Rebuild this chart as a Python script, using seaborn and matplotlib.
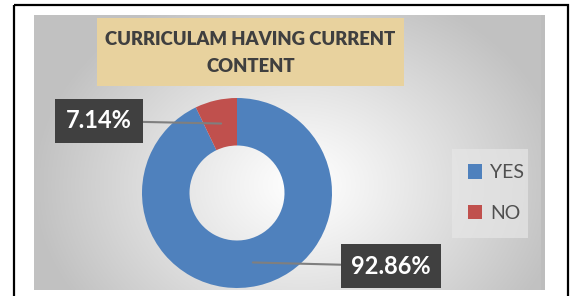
import numpy as np
import matplotlib
matplotlib.use("Agg")
import matplotlib.pyplot as plt
import seaborn as sns
from matplotlib.patches import Rectangle

sns.set_theme(style="white")
plt.rcParams['font.family'] = ['Lato', 'DejaVu Sans']

# ---- data ----
categories = ["YES", "NO"]
values = [92.86, 7.14]
value_labels = ["92.86%", "7.14%"]
title = "CURRICULAM HAVING CURRENT\nCONTENT"
colors = ["#4F81BD", "#C0504D"]

W, H = 576, 296
fig = plt.figure(figsize=(W / 100, H / 100), dpi=100)
fig.patch.set_facecolor("white")

# background axes in pixel coordinates
bg = fig.add_axes([0, 0, 1, 1])
bg.set_xlim(0, W)
bg.set_ylim(H, 0)
bg.axis("off")

# radial gradient panel
px0, px1, py0, py1 = 34, 545, 15, 290
xs = np.linspace(px0, px1, 300)
ys = np.linspace(py0, py1, 200)
X, Y = np.meshgrid(xs, ys)
d = np.sqrt(((X - 300) / 280) ** 2 + ((Y - 185) / 220) ** 2)
d = np.clip(d / 0.95, 0, 1)
lo, hi = 1.0, 0.76
g = hi + (lo - hi) * (1 - d ** 1.1)
img = np.dstack([g, g, g])
bg.imshow(img, extent=(px0, px1, py1, py0), aspect="auto", zorder=1, interpolation="bilinear")
# right shadow strip
bg.add_patch(Rectangle((541, py0), 4, py1 - py0, facecolor="#BDBDBD", edgecolor="none", zorder=2))

# outer border
bg.add_patch(Rectangle((14, 5), 554, 320, facecolor="none", edgecolor="black", lw=1.6, zorder=3))

# title box
bg.add_patch(Rectangle((97, 18), 307, 68, facecolor="#E8D29E", edgecolor="none", zorder=3))
bg.text(250.5, 53, title, ha="center", va="center", fontsize=13.3, fontweight="heavy",
        color="#3F3F3F", linespacing=1.7, zorder=4)

# legend box
bg.add_patch(Rectangle((452, 149), 76, 89, facecolor="#E6E6E6", edgecolor="none", alpha=0.7, zorder=3))

# donut
cx, cy, r = 237, 193, 95
ax = fig.add_axes([(cx - r) / W, (H - cy - r) / H, 2 * r / W, 2 * r / H])
ax.set_facecolor("none")
wedges, _ = ax.pie(values, colors=colors, startangle=90, counterclock=False,
                   wedgeprops=dict(width=0.5, edgecolor="none"), radius=1)
ax.set_xlim(-1, 1)
ax.set_ylim(-1, 1)
ax.set_aspect("equal")
ax.axis("off")

# data labels with leader lines
text_pos = {"YES": (391, 266), "NO": (99, 121)}
for w, cat, lab in zip(wedges, categories, value_labels):
    ang = np.deg2rad((w.theta1 + w.theta2) / 2)
    pt = (0.75 * np.cos(ang), 0.75 * np.sin(ang))
    tx, ty = text_pos[cat]
    ax.annotate(lab, xy=pt, xycoords="data",
                xytext=(tx / W, 1 - ty / H), textcoords="figure fraction",
                ha="center", va="center", fontsize=17, fontweight="bold", color="white",
                bbox=dict(boxstyle="square,pad=0.45", facecolor="#404040", edgecolor="none"),
                arrowprops=dict(arrowstyle="-", color="#7F7F7F", lw=1.5, shrinkA=0, shrinkB=0),
                zorder=6)

# legend
handles = [Rectangle((0, 0), 1, 1, facecolor=c, edgecolor="none") for c in colors]
leg = fig.legend(handles, categories, loc="center left",
                 bbox_to_anchor=(450 / W, 1 - 193 / H), frameon=False,
                 fontsize=14, labelcolor="#505050", handlelength=0.75, handleheight=0.75,
                 handletextpad=0.4, labelspacing=1.2)

fig.savefig("out.png", dpi=100)
